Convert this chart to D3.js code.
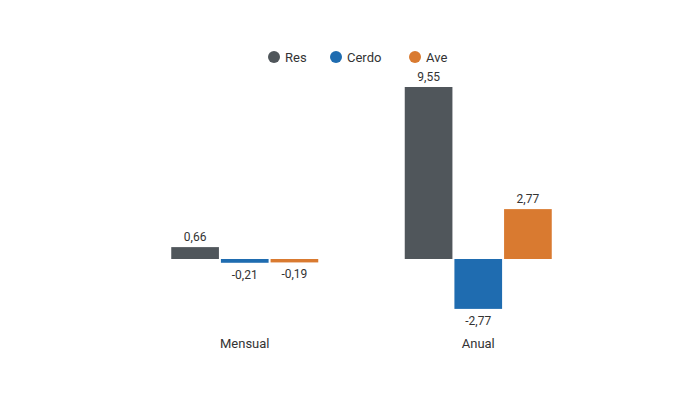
<!DOCTYPE html>
<html><head><meta charset="utf-8">
<script src="https://cdn.jsdelivr.net/npm/d3@7"></script>
<style>body{margin:0;background:#fff;font-family:Roboto,Arial,sans-serif}</style>
</head><body><svg id="c" width="700" height="400"></svg>
<script>
const categories = ["Mensual","Anual"];
const series = ["Res","Cerdo","Ave"];
const colors = ["#50565b","#1f6cb0","#d97a30"];
const resValues = [0.66, 9.55];
const cerdoValues = [-0.21, -2.77];
const aveValues = [-0.19, 2.77];
const values = [resValues, cerdoValues, aveValues];

const svg = d3.select("#c");
const x0 = d3.scaleBand().domain(categories).range([128,595]).padding(0);
const bw = x0.bandwidth();
const x1 = d3.scaleBand().domain(series).range([bw/2-73.5, bw/2+73.5]).paddingInner(0.04);
const y = d3.scaleLinear().domain([0,9.55]).range([259,87]);
const fmt = v => d3.format(".2f")(v).replace(".", ",").replace("\u2212","-");

categories.forEach((c,ci)=>{
  series.forEach((s,si)=>{
    const v = values[si][ci];
    const xx = x0(c)+x1(s);
    const h = Math.max(Math.abs(y(v)-y(0)), 3);
    svg.append("rect").attr("x",xx).attr("y",v>=0 ? y(0)-h : y(0)).attr("width",x1.bandwidth()).attr("height",h).attr("fill",colors[si]);
    svg.append("text").attr("x",xx+x1.bandwidth()/2)
      .attr("y", v>=0 ? y(0)-h-6 : y(0)+h+16)
      .attr("text-anchor","middle").attr("font-size",12).attr("fill","#333").text(fmt(v));
  });
  svg.append("text").attr("x",x0(c)+bw/2).attr("y",348).attr("text-anchor","middle")
    .attr("font-size",13).attr("fill","#333").text(c);
});

const legX = [274,336,415];
series.forEach((s,i)=>{
  svg.append("circle").attr("cx",legX[i]).attr("cy",57).attr("r",6).attr("fill",colors[i]);
  svg.append("text").attr("x",legX[i]+11).attr("y",62).attr("font-size",13).attr("fill","#333").text(s);
});
</script></body></html>
